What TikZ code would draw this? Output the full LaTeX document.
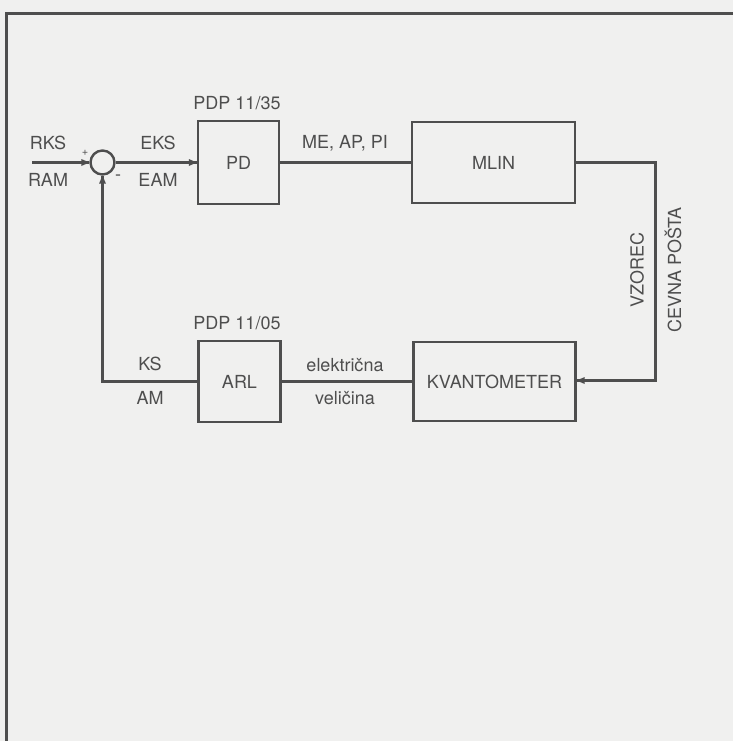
\documentclass[tikz,border=0pt]{standalone}
\usepackage{fontspec}
\setmainfont{TeX Gyre Heros}
\usetikzlibrary{arrows.meta}
\definecolor{ink}{HTML}{4E4E4E}
\definecolor{paper}{HTML}{F0F0EF}
\begin{document}
\begin{tikzpicture}[x=1pt,y=-1pt,
  every node/.style={font=\fontsize{18}{20}\selectfont, text=ink},
  blk/.style={draw=ink, line width=2.4pt, inner sep=0pt},
  conn/.style={draw=ink, line width=2.4pt},
  tipfill/.style={fill=ink, draw=none},
  lbl/.style={inner sep=0pt}]
\fill[paper] (0,0) rectangle (733,741);
\useasboundingbox (0,0) rectangle (733,741);
\draw[ink, line width=2.2pt] (6.5,741) -- (6.5,13.5) -- (733,13.5);

% blocks
\node[blk, minimum width=81pt, minimum height=83pt] (pd) at (238.5,162.5) {PD};
\node[blk, minimum width=163pt, minimum height=81pt] (mlin) at (493.5,162.5) {MLIN};
\node[blk, minimum width=82pt, minimum height=81pt] (arl) at (239.5,381.5) {ARL};
\node[blk, minimum width=162pt, minimum height=79pt] (kv) at (494.5,381.5) {KVANTOMETER};
\node[draw=ink, line width=2.4pt, circle, minimum size=24pt, inner sep=0pt] (sum) at (102.5,162.5) {};

% labels over blocks
\node[lbl] (t1) at (237,103) {PDP 11/35};
\node[lbl] (t2) at (237,323) {PDP 11/05};

% connectors
\coordinate (in) at (32,162.5);
\draw[conn] (in) -- (sum.west);
\fill[tipfill] (sum.west) -- ++(-8,-3.5) -- ++(0,7) -- cycle;
\draw[conn] (sum.east) -- (sum.east -| pd.west);
\fill[tipfill] (sum.east -| pd.west) -- ++(-8,-3.5) -- ++(0,7) -- cycle;
\draw[conn] (pd.east) -- (pd.east -| mlin.west);
\coordinate (c1) at (655.5,162.5);
\coordinate (c2) at (655.5,380.5);
\draw[conn] (mlin.east |- c1) -- (c1) -- (c2) -- (kv.east |- c2);
\fill[tipfill] (kv.east |- c2) -- ++(8,-3.5) -- ++(0,7) -- cycle;
\draw[conn] (kv.west |- arl.east) -- (arl.east);
\coordinate (c3) at (102.5,381.5);
\draw[conn] (arl.west |- c3) -- (c3) -- (sum.south);
\fill[tipfill] (sum.south) -- ++(-3.5,8) -- ++(7,0) -- cycle;

% signal labels
\node[lbl] (rks) at (48,143) {RKS};
\node[lbl] (ram) at (48,180) {RAM};
\node[lbl, font=\fontsize{11}{11}\selectfont] (plus) at (85,153) {+};
\node[lbl] (minus) at (118,178) {-};
\node[lbl] (eks) at (158,143) {EKS};
\node[lbl] (eam) at (158,180) {EAM};
\node[lbl] (me) at (345,143) {ME, AP, PI};
\node[lbl] (ks) at (150,364) {KS};
\node[lbl] (am) at (150,398) {AM};
\node[lbl] (el) at (345,365) {električna};
\node[lbl] (ve) at (345,398) {veličina};
\node[lbl, rotate=90] (vz) at (637,270) {VZOREC};
\node[lbl, rotate=90] (cp) at (673,270) {CEVNA POŠTA};
\end{tikzpicture}
\end{document}
